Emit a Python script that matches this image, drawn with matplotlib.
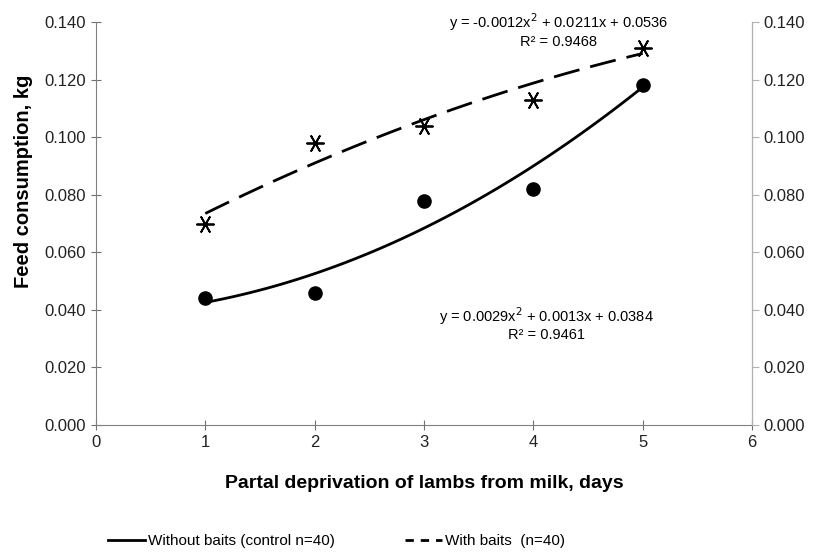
import numpy as np
import matplotlib
matplotlib.use('Agg')
import matplotlib.pyplot as plt
from matplotlib.lines import Line2D

plt.rcParams['font.family'] = ['Liberation Sans', 'DejaVu Sans']

days = [1, 2, 3, 4, 5]
without_baits = [0.044, 0.046, 0.078, 0.082, 0.118]
with_baits = [0.070, 0.098, 0.104, 0.113, 0.131]
coef_without = [0.0029, 0.0013, 0.0384]
coef_with = [-0.0012, 0.0211, 0.0536]
yticks = [0.0, 0.02, 0.04, 0.06, 0.08, 0.10, 0.12, 0.14]
xticks = [0, 1, 2, 3, 4, 5, 6]

fig = plt.figure(figsize=(8.16, 5.52), dpi=100)
ax = fig.add_axes([0.1176, 0.230, 0.804, 0.730])

xs = np.linspace(1, 5, 100)
ax.plot(xs, np.polyval(coef_without, xs), color='black', lw=2)
ax.plot(xs, np.polyval(coef_with, xs), color='black', lw=2, dashes=(9.5, 4))
ax.scatter(days, without_baits, s=90, color='black', zorder=3)
ax.scatter(days, with_baits, s=150, color='black', marker=(6, 2, 90),
           linewidths=1.3, zorder=3)

ax.set_xlim(0, 6)
ax.set_ylim(0, 0.14)
ax.set_xticks(xticks)
ax.set_yticks(yticks)
ax.set_yticklabels(['%.3f' % v for v in yticks])
ax.tick_params(labelsize=12, labelcolor='#222222', color='#707070',
               direction='inout', length=7)
ax.tick_params(axis='x', pad=4)
ax.spines['top'].set_visible(False)
for s in ['left', 'bottom', 'right']:
    ax.spines[s].set_color('#808080')

ax2 = ax.twinx()
ax2.set_ylim(0, 0.14)
ax2.set_yticks(yticks)
ax2.set_yticklabels(['%.3f' % v for v in yticks])
ax2.tick_params(labelsize=12, labelcolor='#222222', color='#b0b0b0', length=5)
ax2.spines['top'].set_visible(False)
ax2.spines['right'].set_color('#b0b0b0')
ax2.spines['left'].set_visible(False)
ax2.spines['bottom'].set_visible(False)

ax.set_xlabel('Partal deprivation of lambs from milk, days', fontsize=14,
              fontweight='bold', labelpad=18)
ax.set_ylabel('Feed consumption, kg', fontsize=14.5, fontweight='bold')
ax.yaxis.set_label_coords(-0.096, 0.605)

ax.text(4.23, 0.1372, 'y = -0.0012x$^2$ + 0.0211x + 0.0536\nR² = 0.9468',
        ha='center', va='center', fontsize=10.5, linespacing=1.1)
ax.text(4.12, 0.0353, 'y = 0.0029x$^2$ + 0.0013x + 0.0384\nR² = 0.9461',
        ha='center', va='center', fontsize=10.5, linespacing=1.1)

handles = [Line2D([], [], color='black', lw=2),
           Line2D([], [], color='black', lw=2, dashes=(3, 2.5))]
labels = ['Without baits (control n=40)', 'With baits  (n=40)']
fig.legend(handles, labels, loc='center left', bbox_to_anchor=(0.125, 0.02),
           ncol=2, frameon=False, fontsize=11, handlelength=2.4,
           handletextpad=0.2, columnspacing=4.6, borderaxespad=0)

fig.savefig('out.png', dpi=100)
